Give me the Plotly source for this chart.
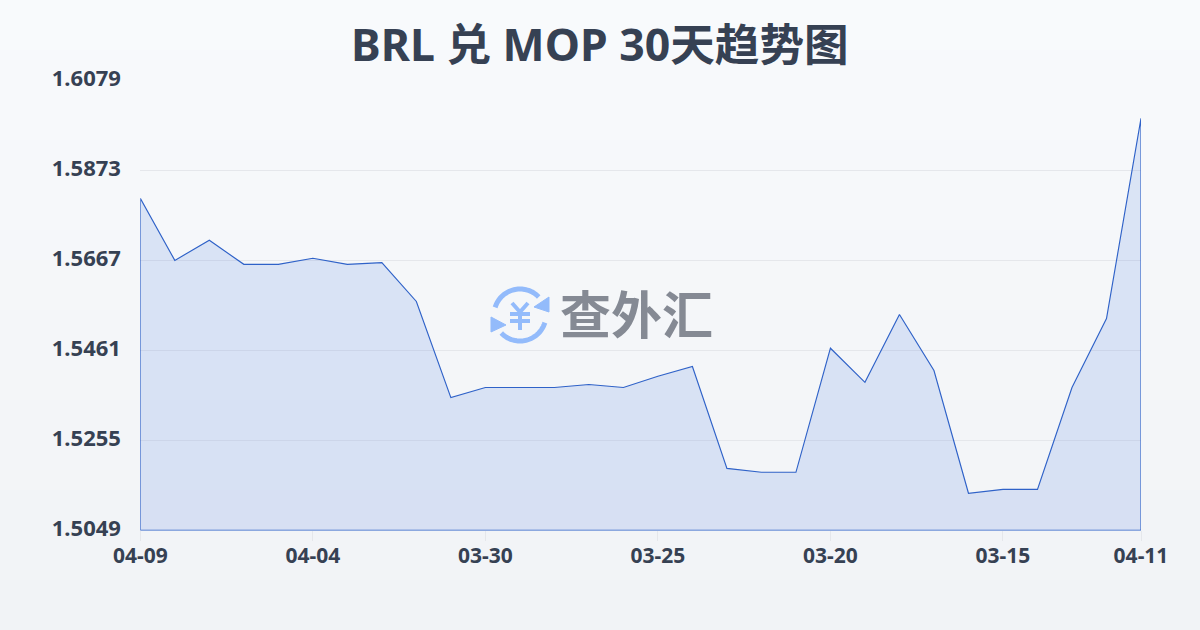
import math
import plotly.graph_objects as go

dates = ["04-09","04-08","04-07","04-06","04-05","04-04","04-03","04-02","04-01","03-31",
         "03-30","03-29","03-28","03-27","03-26","03-25","03-24","03-23","03-22","03-21",
         "03-20","03-19","03-18","03-17","03-16","03-15","03-14","03-13","03-12","04-11"]
rates = [1.5809,1.5667,1.5713,1.5658,1.5658,1.5672,1.5658,1.5662,1.5573,1.5353,
         1.5376,1.5376,1.5376,1.5383,1.5376,1.5402,1.5424,1.5191,1.5182,1.5182,
         1.5466,1.5388,1.5543,1.5415,1.5134,1.5143,1.5143,1.5376,1.5534,1.5992]
y_ticks = [1.5049,1.5255,1.5461,1.5667,1.5873,1.6079]
x_ticks = ["04-09","04-04","03-30","03-25","03-20","03-15","04-11"]
title = "BRL 兑 MOP 30天趋势图"
logo_text = "查外汇"

W, H = 1200, 630
INK = "#364153"
FONT = "Noto Sans, Noto Sans CJK SC, sans-serif"

def px(x): return x / W
def py(y): return 1 - y / H

def mix(a, b, t):
    return "rgb(%d,%d,%d)" % tuple(round(a[i] + (b[i] - a[i]) * t) for i in range(3))

shapes = []
BANDS = 63
for i in range(BANDS):
    shapes.append(dict(type="rect", xref="paper", yref="paper", layer="below",
                       x0=0, x1=1, y0=1 - i / BANDS, y1=1 - (i + 1) / BANDS,
                       line_width=0,
                       fillcolor=mix((248, 250, 252), (241, 243, 246), i / (BANDS - 1))))

def path(pts, close=False):
    s = "M" + " L".join(f"{px(x):.5f},{py(y):.5f}" for x, y in pts)
    return s + (" Z" if close else "")

def arc(a0, a1, cx=520, cy=315, r=26, n=40):
    return [(cx + r * math.cos(math.radians(a0 + (a1 - a0) * k / n)),
             cy + r * math.sin(math.radians(a0 + (a1 - a0) * k / n))) for k in range(n + 1)]

BLUE = "#93bbfb"
def stroke(pts, w):
    shapes.append(dict(type="path", xref="paper", yref="paper", path=path(pts),
                       line=dict(color=BLUE, width=w), layer="above"))
def solid(pts):
    shapes.append(dict(type="path", xref="paper", yref="paper", path=path(pts, True),
                       fillcolor=BLUE, line=dict(color=BLUE, width=1), layer="above"))

stroke(arc(197, 316), 5)
stroke(arc(17, 136), 5)
solid([(549, 297), (549, 312), (534, 307)])
solid([(491, 317), (491, 332), (506, 325)])
stroke([(512, 303), (520, 312), (528, 303)], 4)
stroke([(510, 314), (530, 314)], 4)
stroke([(510, 321), (530, 321)], 4)
stroke([(520, 312), (520, 330)], 4)

closed_x = dates + [dates[-1], dates[0], dates[0]]
closed_y = rates + [y_ticks[0], y_ticks[0], rates[0]]

fig = go.Figure(go.Scatter(
    x=closed_x, y=closed_y, mode="lines", fill="toself", cliponaxis=False,
    line=dict(color="#2f62c8", width=1.15),
    fillcolor="rgba(63,113,220,0.15)", hoverinfo="skip", showlegend=False))

fig.update_layout(
    template="none",
    width=W, height=H, autosize=False,
    margin=dict(l=0, r=0, t=0, b=0, pad=0),
    paper_bgcolor="#f5f7fa", plot_bgcolor="rgba(0,0,0,0)",
    font=dict(family=FONT, color=INK),
    shapes=shapes,
    annotations=[
        dict(text=f"<b>{title}</b>", xref="paper", yref="paper", x=0.5, y=py(44),
             xanchor="center", yanchor="middle", showarrow=False,
             font=dict(size=44.6, color=INK, family=FONT)),
        dict(text=f"<b>{logo_text}</b>", xref="paper", yref="paper", x=px(636), y=py(312),
             xanchor="center", yanchor="middle", showarrow=False,
             font=dict(size=51, color="#858a94", family="Noto Sans CJK SC, sans-serif")),
    ],
    xaxis=dict(type="category", categoryorder="array", categoryarray=dates, automargin=False,
               domain=[px(140.3), px(1141)], range=[0, len(dates) - 1],
               tickmode="array", tickvals=x_ticks, ticktext=x_ticks,
               showgrid=False, zeroline=False, showline=False,
               ticks="outside", ticklen=10, tickcolor="#e5e7eb", tickwidth=1,
               ticklabelstandoff=-4,
               tickfont=dict(size=21, color=INK, family=FONT, weight="bold")),
    yaxis=dict(domain=[py(530.4), py(80.4)], range=[y_ticks[0], y_ticks[-1]], automargin=False,
               tickmode="array", tickvals=y_ticks, ticktext=[f"{v:.4f}" for v in y_ticks],
               showgrid=True, gridcolor="#e5e7eb", gridwidth=1, zeroline=False, showline=False,
               ticks="outside", ticklen=14, tickcolor="rgba(0,0,0,0)",
               ticklabelshift=-2,
               tickfont=dict(size=22, color=INK, family=FONT, weight="bold")),
)
fig.write_html("out.html", config=dict(displayModeBar=False),
               post_script="document.body.style.margin='0';document.documentElement.style.overflow='hidden';")
